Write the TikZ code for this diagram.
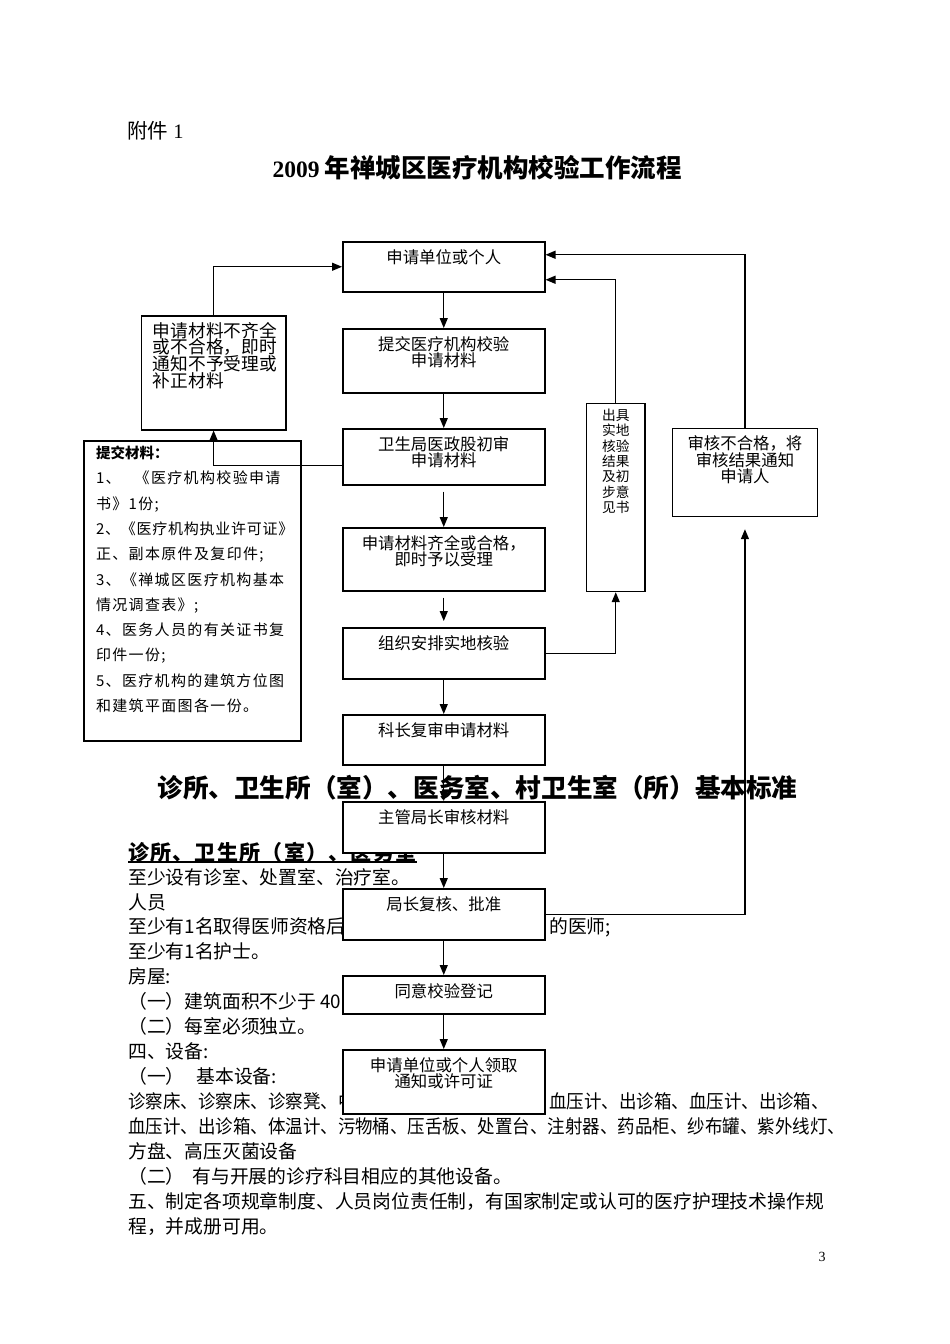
\documentclass[tikz,border=0pt]{standalone}
\usepackage{fontspec}
\setmainfont{Liberation Serif}
\newfontfamily\cjk{Noto Sans CJK SC}
\newfontfamily\cjkn{Noto Sans CJK SC}[FakeStretch=0.93]
\newfontfamily\cjkl{Noto Sans CJK SC}[LetterSpace=9]
\newfontfamily\cjkt{Noto Sans CJK SC}[LetterSpace=5]
\newfontfamily\cjkh{Noto Sans CJK SC}[LetterSpace=6]
\usetikzlibrary{arrows.meta, positioning}
\setlength{\lineskiplimit}{-40pt}

\begin{document}
\begin{tikzpicture}[
    x=1pt, y=-1pt,
    box/.style={rectangle, draw, line width=1.5pt, fill=white, anchor=north west, inner sep=0pt, minimum width=202pt},
    lbl/.style={anchor=north, yshift=-8pt, inner sep=0pt, align=center, font=\cjk\fontsize{16.4}{16.5}\selectfont},
    arrow/.style={-{Triangle[length=10pt, width=8pt]}, line width=1.3pt},
    body/.style={anchor=base west, inner sep=0pt, font=\cjk\fontsize{18.8}{24}\selectfont}
]
\useasboundingbox (0,0) rectangle (950,1344);

% Page text
\node[anchor=west, inner sep=0pt, font=\fontsize{20.5}{24}\selectfont] (fj) at (127,131) {{\cjk 附件} 1};
\node[inner sep=0pt] (t1) at (477,168) {{\bfseries\fontsize{23.5}{25}\selectfont 2009}\hspace{5pt}{\cjk\bfseries\fontsize{25.5}{25}\selectfont 年禅城区医疗机构校验工作流程}};
\node[inner sep=0pt, font=\cjk\bfseries\fontsize{25.6}{26}\selectfont] (t2) at (477.5,788) {诊所、卫生所（室）、医务室、村卫生室（所）基本标准};
\node[anchor=base west, inner sep=0pt, font=\cjkh\bfseries\fontsize{21}{24}\selectfont] (hd) at (128,860) {诊所、卫生所（室）、医务室};
\draw[line width=1.6pt] ([yshift=-2pt]hd.base west) -- ([yshift=-2pt]hd.base east);
\foreach \t [count=\i from 0] in {至少设有诊室、处置室、治疗室。, 人员, 至少有1名取得医师资格后, 至少有1名护士。, 房屋:, （一）建筑面积不少于\hspace{4pt}40, （二）每室必须独立。, 四、设备:, （一）\hspace{12pt}基本设备:, \cjkn 诊察床、诊察床、诊察凳、中, \cjkn 血压计、出诊箱、体温计、污物桶、压舌板、处置台、注射器、药品柜、纱布罐、紫外线灯、, 方盘、高压灭菌设备, （二）\hspace{8pt}有与开展的诊疗科目相应的其他设备。, 五、制定各项规章制度、人员岗位责任制，有国家制定或认可的医疗护理技术操作规, 程，并成册可用。}
    \node[body] (ln\i) at (128,{884.1+24.93*\i}) {\t};
\node[body] (ln2r) at (549,{884.1+24.93*2}) {的医师;};
\node[body] (ln9r) at (549,{884.1+24.93*9}) {\cjkn 血压计、出诊箱、血压计、出诊箱、};
\node[inner sep=0pt, font=\fontsize{14}{14}\selectfont] (pg) at (822,1257) {3};

% Boxes
\node[box, minimum width=216.7pt, minimum height=300pt,
      label={[lbl, anchor=north west, align=left, xshift=12.5pt, yshift=2.3pt, font=\cjkl\fontsize{15}{25.3}\selectfont]north west:{{\cjk\bfseries\fontsize{14.5}{25.3}\selectfont 提交材料：}\\1、\hspace{14pt}《医疗机构校验申请\\书》1份;\\{\cjkt 2、《医疗机构执业许可证》}\\正、副本原件及复印件;\\3、《禅城区医疗机构基本\\情况调查表》;\\4、医务人员的有关证书复\\印件一份;\\5、医疗机构的建筑方位图\\和建筑平面图各一份。}}] (mat) at (83.3,440) {};
\node[box, minimum width=144.3pt, minimum height=114pt,
      label={[lbl, anchor=north west, align=left, xshift=12pt, yshift=1pt, font=\cjk\fontsize{17.7}{16.7}\selectfont]north west:{申请材料不齐全\\或不合格，即时\\通知不予受理或\\补正材料}}] (rej) at (140.7,315) {};
\node[box, minimum height=50pt, label={[lbl]north:申请单位或个人}] (ap) at (342,241) {};
\node[box, minimum height=64pt, label={[lbl]north:{提交医疗机构校验\\申请材料}}] (sub) at (342,328) {};
\node[box, minimum height=56pt, label={[lbl]north:{卫生局医政股初审\\申请材料}}] (init) at (342,428) {};
\node[box, minimum height=63pt, label={[lbl]north:{申请材料齐全或合格，\\即时予以受理}}] (acc) at (342,527) {};
\node[box, minimum height=51pt, label={[lbl]north:组织安排实地核验}] (insp) at (342,627) {};
\node[box, minimum height=50pt, label={[lbl]north:科长复审申请材料}] (rev) at (342,714) {};
\node[box, minimum height=51pt, label={[lbl]north:主管局长审核材料}] (chk) at (342,801) {};
\node[box, minimum height=51pt, label={[lbl]north:局长复核、批准}] (appr) at (342,888) {};
\node[box, minimum height=38pt, label={[lbl]north:同意校验登记}] (reg) at (342,975) {};
\node[box, minimum height=64pt, label={[lbl]north:{申请单位或个人领取\\通知或许可证}}] (coll) at (342,1049) {};
\node[box, minimum width=58.6pt, minimum height=188pt,
      label={[lbl, yshift=1.9pt, font=\cjk\fontsize{13.7}{15.3}\selectfont]north:{出具\\实地\\核验\\结果\\及初\\步意\\见书}}] (rpt) at (585.7,402.7) {};
\node[box, minimum width=145pt, minimum height=88pt,
      label={[lbl]north:{审核不合格，将\\审核结果通知\\申请人}}] (fail) at (671.7,427.7) {};

% Arrows
\draw[arrow] (ap) -- (sub);
\draw[arrow] (sub) -- (init);
\draw[arrow, shorten <=6pt] (init) -- (acc);
\draw[arrow, shorten <=6pt, shorten >=6pt] (acc) -- (insp);
\draw[arrow] (insp) -- (rev);
\draw[arrow] (rev) -- (chk);
\draw[arrow] (chk) -- (appr);
\draw[arrow] (appr) -- (reg);
\draw[arrow] (reg) -- (coll);
\draw[arrow] (rej.north) |- (ap.west);
\draw[arrow] ([yshift=-9pt]init.west) -| (rej.south);
\draw[arrow] (rpt.north) |- ([yshift=-13pt]ap.east);
\draw[arrow] (fail.north) |- ([yshift=12pt]ap.east);
\draw[arrow] (insp.east) -| (rpt.south);
\draw[arrow, shorten >=12pt] (appr.east) -| (fail.south);

\end{tikzpicture}
\end{document}
